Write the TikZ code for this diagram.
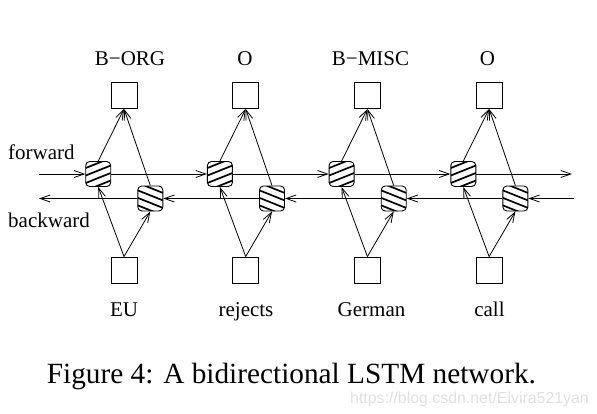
\documentclass[tikz,border=0pt]{standalone}
\usepackage{fontspec}
\setmainfont{Liberation Serif}
\newfontfamily\wmfont{Liberation Sans}
\usetikzlibrary{arrows.meta,calc}
\begin{document}
\begin{tikzpicture}[x=1pt,y=-1pt,
  box/.style={draw,line width=0.9pt,minimum size=26pt,inner sep=0pt,fill=white},
  cell/.style={draw,line width=0.9pt,rounded corners=4pt,minimum size=25pt,inner sep=0pt,fill=white},
  arr/.style={line width=0.8pt,-{Straight Barb[length=10pt,width=7pt,line width=0.8pt]}},
  lab/.style={font=\fontsize{21}{25}\selectfont,anchor=base,inner sep=0pt},
  side/.style={font=\fontsize{21}{25}\selectfont,anchor=base west,inner sep=0pt},
  hatch/.style={line width=1.7pt}]
\useasboundingbox (0,0) rectangle (597,413);
% units
\foreach \i/\cx in {1/124,2/245.7,3/367.4,4/489.1}{
  \node[box] (out\i) at (\cx,95.5) {};
  \node[box] (in\i) at (\cx,270) {};
  \node[cell] (f\i) at (\cx-25.8,174) {};
  \node[cell] (b\i) at (\cx+26.3,198.5) {};
}
% hatching
\foreach \i in {1,...,4}{
  \begin{scope}
    \clip[rounded corners=3.6pt] ($(f\i.south west)+(0.45,-0.45)$) rectangle ($(f\i.north east)+(-0.45,0.45)$);
    \begin{scope}[shift={(f\i.south west)},x=25pt,y=25pt]
      \foreach \c in {0.75,0.45,0.15,-0.15}
        \draw[hatch] (-0.2,{-0.08+\c}) -- (1.2,{0.48+\c});
    \end{scope}
  \end{scope}
  \begin{scope}
    \clip[rounded corners=3.6pt] ($(b\i.south west)+(0.45,-0.45)$) rectangle ($(b\i.north east)+(-0.45,0.45)$);
    \begin{scope}[shift={(b\i.south west)},x=25pt,y=25pt]
      \foreach \c in {1.15,0.85,0.55,0.25}
        \draw[hatch] (-0.2,{0.08+\c}) -- (1.2,{-0.48+\c});
    \end{scope}
  \end{scope}
}
% vertical connections
\foreach \i in {1,...,4}{
  \draw[arr] (in\i.north) -- (f\i.south);
  \draw[arr] (in\i.north) -- (b\i.south);
  \draw[arr] (f\i.north) -- (out\i.south);
  \draw[arr] (b\i.north) -- (out\i.south);
}
% recurrent connections
\coordinate (fs) at (39,174);
\coordinate (fe) at (572,174);
\coordinate (bs) at (574,198.5);
\coordinate (be) at (39,198.5);
\draw[arr] (fs) -- (f1.west);
\draw[arr] (f1.east) -- (f2.west);
\draw[arr] (f2.east) -- (f3.west);
\draw[arr] (f3.east) -- (f4.west);
\draw[arr] (f4.east) -- (fe);
\draw[arr] (bs) -- (b4.east);
\draw[arr] (b4.west) -- (b3.east);
\draw[arr] (b3.west) -- (b2.east);
\draw[arr] (b2.west) -- (b1.east);
\draw[arr] (b1.west) -- (be);
% labels
\node[lab] (lo1) at (130,65) {B−ORG};
\node[lab] (lo2) at (245,65) {O};
\node[lab] (lo3) at (370.5,65) {B−MISC};
\node[lab] (lo4) at (487.5,65) {O};
\node[lab] (li1) at (124,316) {EU};
\node[lab] (li2) at (246,316) {rejects};
\node[lab] (li3) at (371.5,316) {German};
\node[lab] (li4) at (489.5,316) {call};
\node[side] (lf) at (8,159) {forward};
\node[side] (lb) at (8,227) {backward};
\node[anchor=base west,inner sep=0pt,font=\fontsize{29.3}{34}\selectfont] (cap) at (46.7,383) {Figure 4: A bidirectional LSTM network.};
\node[anchor=base west,inner sep=0pt,text=black!12,font=\wmfont\fontsize{15.9}{18}\selectfont] (wm) at (350,403) {https://blog.csdn.net/Elvira521yan};
\end{tikzpicture}
\end{document}
